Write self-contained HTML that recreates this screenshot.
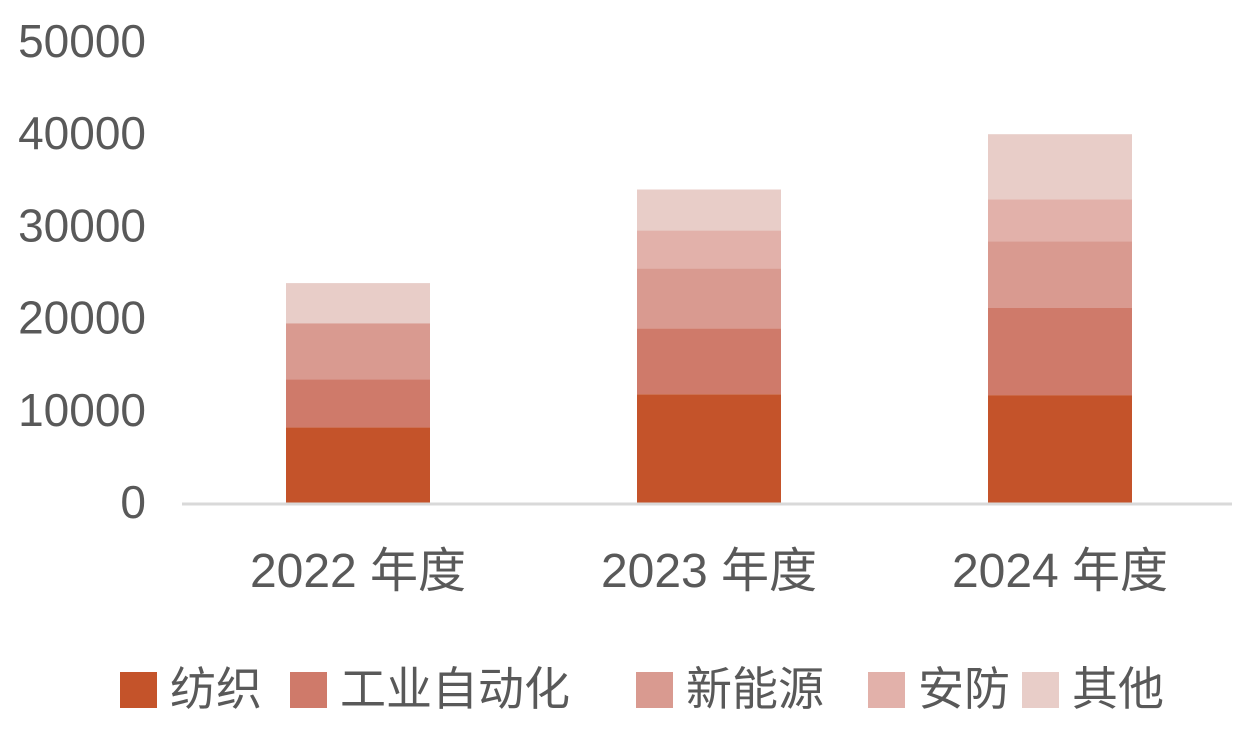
<!DOCTYPE html>
<html><head><meta charset="utf-8"><style>
body{margin:0;background:#fff;width:1245px;height:732px;overflow:hidden;font-family:"Liberation Sans","Noto Sans CJK SC",sans-serif;}
svg text{font-family:"Liberation Sans","Noto Sans CJK SC",sans-serif;fill:#595959;}
</style></head><body>
<svg id="chart" width="1245" height="732"></svg>
<script>
const categories=["2022 年度","2023 年度","2024 年度"];
const seriesNames=["纺织","工业自动化","新能源","安防","其他"];
const textile=[8200,11800,11700];
const automation=[5200,7150,9450];
const newEnergy=[6100,6500,7250];
const security=[0,4100,4550];
const other=[4350,4450,7050];
const yTicks=[0,10000,20000,30000,40000,50000];
const colors=["#c4532a","#cf7a6a","#d99a90","#e2b1aa","#e8cdc8"];
const series=[textile,automation,newEnergy,security,other];
const svg=document.getElementById('chart');
const NS="http://www.w3.org/2000/svg";
const y0=503,pxPer=(503-42)/50000;
const y=v=>y0-v*pxPer;
const barW=144,centers=[358,709,1060];
const x=i=>centers[i];
function mk(t,a){const e=document.createElementNS(NS,t);for(const k in a)e.setAttribute(k,a[k]);svg.appendChild(e);return e;}
yTicks.forEach(v=>{const t=mk('text',{x:146,y:y(v)+15,'text-anchor':'end','font-size':46});t.textContent=v;

});
categories.forEach((c,i)=>{let acc=0;series.forEach((s,k)=>{const v=s[i];const r=mk('rect',{x:x(i)-barW/2,y:y(acc+v),width:barW,height:v*pxPer,fill:colors[k]});

acc+=v;});
const t=mk('text',{x:x(i),y:587,'text-anchor':'middle','font-size':48});t.textContent=c;

});
const ax=mk('line',{x1:182,x2:1232,y1:504,y2:504,stroke:'#d9d9d9','stroke-width':3});


const legX=[120,290,636,868,1022];
seriesNames.forEach((n,k)=>{const r=mk('rect',{x:legX[k],y:672,width:37,height:36,fill:colors[k]});


const t=mk('text',{x:legX[k]+50,y:705,'font-size':46});t.textContent=n;

});
</script>
</body></html>
